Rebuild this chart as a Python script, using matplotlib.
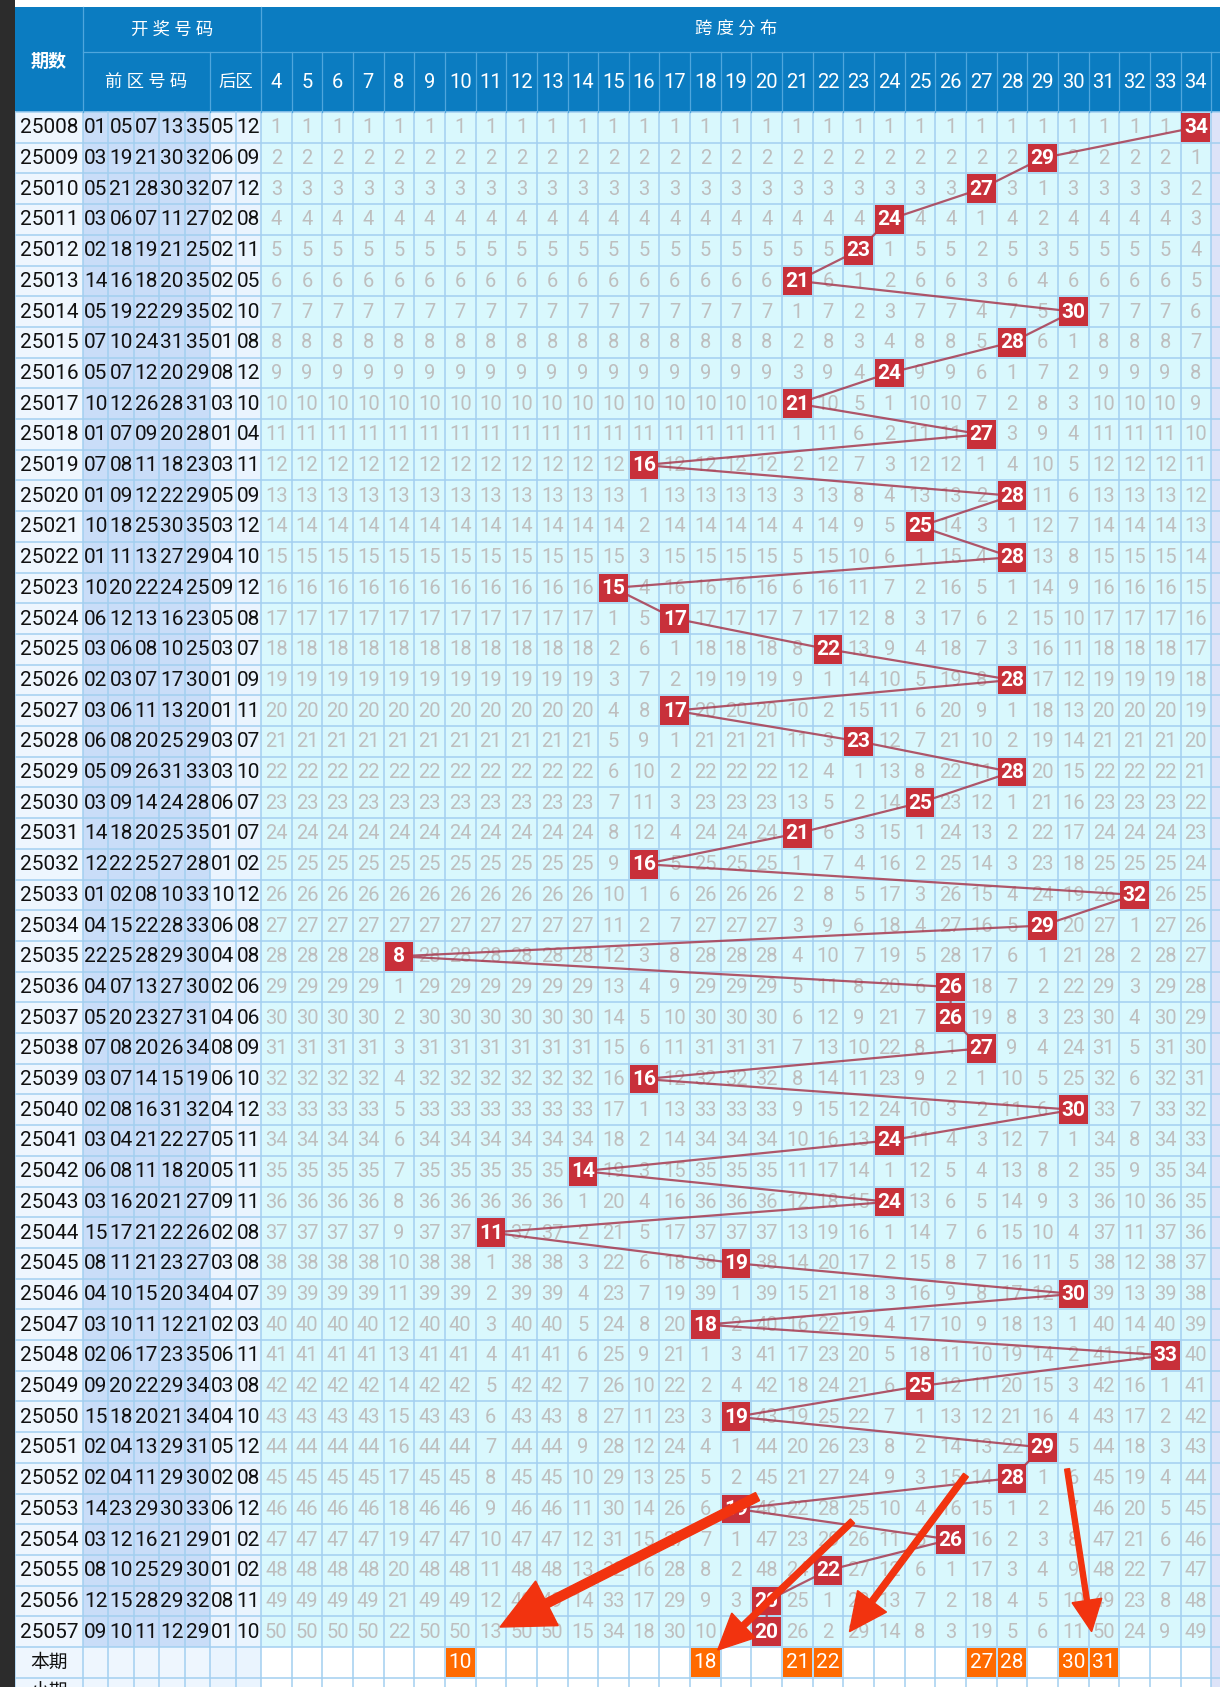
import numpy as np
import matplotlib.pyplot as plt
from matplotlib.patches import Rectangle, FancyArrow

plt.rcParams['font.family'] = ['Roboto', 'Noto Sans CJK SC', 'DejaVu Sans']

# ---- data ----
periods = list(range(25008, 25058))
front = [
    [1, 5, 7, 13, 35], [3, 19, 21, 30, 32], [5, 21, 28, 30, 32], [3, 6, 7, 11, 27],
    [2, 18, 19, 21, 25], [14, 16, 18, 20, 35], [5, 19, 22, 29, 35], [7, 10, 24, 31, 35],
    [5, 7, 12, 20, 29], [10, 12, 26, 28, 31], [1, 7, 9, 20, 28], [7, 8, 11, 18, 23],
    [1, 9, 12, 22, 29], [10, 18, 25, 30, 35], [1, 11, 13, 27, 29], [10, 20, 22, 24, 25],
    [6, 12, 13, 16, 23], [3, 6, 8, 10, 25], [2, 3, 7, 17, 30], [3, 6, 11, 13, 20],
    [6, 8, 20, 25, 29], [5, 9, 26, 31, 33], [3, 9, 14, 24, 28], [14, 18, 20, 25, 35],
    [12, 22, 25, 27, 28], [1, 2, 8, 10, 33], [4, 15, 22, 28, 33], [22, 25, 28, 29, 30],
    [4, 7, 13, 27, 30], [5, 20, 23, 27, 31], [7, 8, 20, 26, 34], [3, 7, 14, 15, 19],
    [2, 8, 16, 31, 32], [3, 4, 21, 22, 27], [6, 8, 11, 18, 20], [3, 16, 20, 21, 27],
    [15, 17, 21, 22, 26], [8, 11, 21, 23, 27], [4, 10, 15, 20, 34], [3, 10, 11, 12, 21],
    [2, 6, 17, 23, 35], [9, 20, 22, 29, 34], [15, 18, 20, 21, 34], [2, 4, 13, 29, 31],
    [2, 4, 11, 29, 30], [14, 23, 29, 30, 33], [3, 12, 16, 21, 29], [8, 10, 25, 29, 30],
    [12, 15, 28, 29, 32], [9, 10, 11, 12, 29],
]
back = [
    [5, 12], [6, 9], [7, 12], [2, 8], [2, 11], [2, 5], [2, 10], [1, 8], [8, 12], [3, 10],
    [1, 4], [3, 11], [5, 9], [3, 12], [4, 10], [9, 12], [5, 8], [3, 7], [1, 9], [1, 11],
    [3, 7], [3, 10], [6, 7], [1, 7], [1, 2], [10, 12], [6, 8], [4, 8], [2, 6], [4, 6],
    [8, 9], [6, 10], [4, 12], [5, 11], [5, 11], [9, 11], [2, 8], [3, 8], [4, 7], [2, 3],
    [6, 11], [3, 8], [4, 10], [5, 12], [2, 8], [6, 12], [1, 2], [1, 2], [8, 11], [1, 10],
]
spans = [34, 29, 27, 24, 23, 21, 30, 28, 24, 21, 27, 16, 28, 25, 28, 15, 17, 22, 28, 17,
         23, 28, 25, 21, 16, 32, 29, 8, 26, 26, 27, 16, 30, 24, 14, 24, 11, 19, 30, 18,
         33, 25, 19, 29, 28, 19, 26, 22, 20, 20]
span_cols = list(range(4, 35))
current_picks = [10, 18, 21, 22, 27, 28, 30, 31]

# hand-drawn arrows: span/row of tail and tip, shaft width, head size
arrow_from_span = [19.7, 22.8, 26.5, 29.8]
arrow_from_row = [44.6, 45.4, 43.9, 43.7]
arrow_to_span = [11.3, 18.4, 22.7, 30.6]
arrow_to_row = [48.85, 49.6, 49.0, 49.0]
arrow_shaft = [9, 6, 6, 5]
arrow_head = [50, 34, 36, 30]

# ---- layout (pixels) ----
W, H = 1220, 1687
X0 = 15
FX = np.linspace(83, 210, 6)
BX = [210, 235.5, 261]
SX, CW = 261, 30.65
SE = SX + CW * np.arange(len(span_cols) + 1)
HY0, HY1, HY2 = 7, 52, 112
RH = 30.7
nrows = len(periods)

HEADER = '#0B7CC1'
GRID = '#A3CFF0'
fig = plt.figure(figsize=(W / 100, H / 100), dpi=100)
ax = fig.add_axes([0, 0, 1, 1])
ax.set_xlim(0, W)
ax.set_ylim(H, 0)
ax.axis('off')


def rect(x, y, w, h, fc, z=1):
    ax.add_patch(Rectangle((x, y), w, h, facecolor=fc, edgecolor='none', zorder=z))


def row_y(i):
    return HY2 + i * RH


def span_x(v):
    return SX + (v - span_cols[0] + 0.5) * CW


# backgrounds
rect(0, 0, X0, H, '#2C2C2C', 6)
rect(X0, HY0, W - X0, HY2 - HY0, HEADER)
body_top, body_h = HY2, H - HY2
rect(X0, body_top, FX[0] - X0, body_h, '#EEF6FE')
rect(FX[0], body_top, FX[-1] - FX[0], row_y(nrows) - body_top, '#C9DDF8')
rect(FX[0], row_y(nrows), FX[-1] - FX[0], H - row_y(nrows), '#EEF6FE')
rect(BX[0], body_top, BX[-1] - BX[0], body_h, '#EAF4FE')
rect(SX, body_top, SE[-1] - SX, row_y(nrows) - body_top, '#D9F8FD')
rect(SX, row_y(nrows), SE[-1] - SX, H - row_y(nrows), '#FFFFFF')
rect(SE[-1], body_top, W - SE[-1], body_h, '#DDE3F8')

# grid lines in body
vx = [X0, *FX, *BX[1:], *SE[1:]]
for x in vx:
    ax.plot([x, x], [HY2, H], color=GRID, lw=1.1, zorder=1.5)
for i in range(nrows + 3):
    y = row_y(i)
    ax.plot([X0, W], [y, y], color=GRID, lw=1.1, zorder=1.5)

# header lines
HL = '#4FA6DD'
ax.plot([FX[0], W], [HY1, HY1], color=HL, lw=0.9, zorder=1.5)
for x in [FX[0], SX]:
    ax.plot([x, x], [HY0, HY2], color=HL, lw=0.9, zorder=1.5)
for x in [BX[0], *SE[1:]]:
    ax.plot([x, x], [HY1, HY2], color=HL, lw=0.9, zorder=1.5)

# header text
hkw = dict(color='white', ha='center', va='center', zorder=7)
ax.text((X0 + FX[0]) / 2, (HY0 + HY2) / 2 + 2, '期数', fontsize=13, fontweight='bold', **hkw)
ax.text((FX[0] + SX) / 2, (HY0 + HY1) / 2, '开 奖 号 码', fontsize=12.5, **hkw)
ax.text((FX[0] + BX[0]) / 2, (HY1 + HY2) / 2, '前 区 号 码', fontsize=12.5, **hkw)
ax.text((BX[0] + SX) / 2, (HY1 + HY2) / 2, '后区', fontsize=12.5, **hkw)
ax.text((SX + SE[-1]) / 2, (HY0 + HY1) / 2, '跨 度 分 布', fontsize=12.5, **hkw)
for v in span_cols:
    ax.text(span_x(v), (HY1 + HY2) / 2, str(v), fontsize=14.5, **hkw)

# draw numbers
FS = 15
for i, p in enumerate(periods):
    yc = row_y(i) + RH / 2 + 0.5
    ax.text((X0 + FX[0]) / 2, yc, str(p), fontsize=FS, color='#111111',
            ha='center', va='center', zorder=3)
    for k, n in enumerate(front[i]):
        ax.text((FX[k] + FX[k + 1]) / 2, yc, f'{n:02d}', fontsize=FS, color='#111111',
                ha='center', va='center', zorder=3)
    for k, n in enumerate(back[i]):
        ax.text((BX[k] + BX[k + 1]) / 2, yc, f'{n:02d}', fontsize=FS, color='#111111',
                ha='center', va='center', zorder=3)

ax.text((X0 + FX[0]) / 2, row_y(nrows) + RH / 2, '本期', fontsize=13.5, color='#111111',
        ha='center', va='center', zorder=3)
ax.text((X0 + FX[0]) / 2, row_y(nrows + 1) + RH / 2, '小期', fontsize=13.5, color='#111111',
        ha='center', va='center', zorder=3)

# omission counts and span hits
miss = {v: 0 for v in span_cols}
for i, s in enumerate(spans):
    yc = row_y(i) + RH / 2 + 0.5
    for v in span_cols:
        if v == s:
            miss[v] = 0
            ax.add_patch(Rectangle((span_x(v) - CW / 2 + 1, row_y(i) + 1), CW - 2, RH - 2,
                                   facecolor='#C8303A', edgecolor='none', zorder=4))
            ax.text(span_x(v), yc, str(v), fontsize=FS, fontweight='bold', color='white',
                    ha='center', va='center', zorder=5)
        else:
            miss[v] += 1
            ax.text(span_x(v), yc, str(miss[v]), fontsize=14.5, color='#BEBEBE',
                    ha='center', va='center', zorder=2)

ax.plot([span_x(s) for s in spans], [row_y(i) + RH / 2 for i in range(nrows)],
        color='#A8394F', lw=1.6, alpha=0.85, zorder=3)

# current picks
for v in current_picks:
    ax.add_patch(Rectangle((span_x(v) - CW / 2 + 1, row_y(nrows) + 1), CW - 2, RH - 2,
                           facecolor='#FF6A00', edgecolor='none', zorder=4))
    ax.text(span_x(v), row_y(nrows) + RH / 2, str(v), fontsize=FS, color='white',
            ha='center', va='center', zorder=5)

# red arrows
for fs, fr, ts, tr, sw, hw in zip(arrow_from_span, arrow_from_row, arrow_to_span,
                                  arrow_to_row, arrow_shaft, arrow_head):
    x1, y1 = span_x(fs), row_y(fr) + RH / 2
    x2, y2 = span_x(ts), row_y(tr) + RH / 2
    ax.add_patch(FancyArrow(x1, y1, x2 - x1, y2 - y1, width=sw, head_width=hw,
                            head_length=hw * 1.05, length_includes_head=True,
                            color='#F2330F', zorder=10))

fig.savefig('out.png', dpi=100)
